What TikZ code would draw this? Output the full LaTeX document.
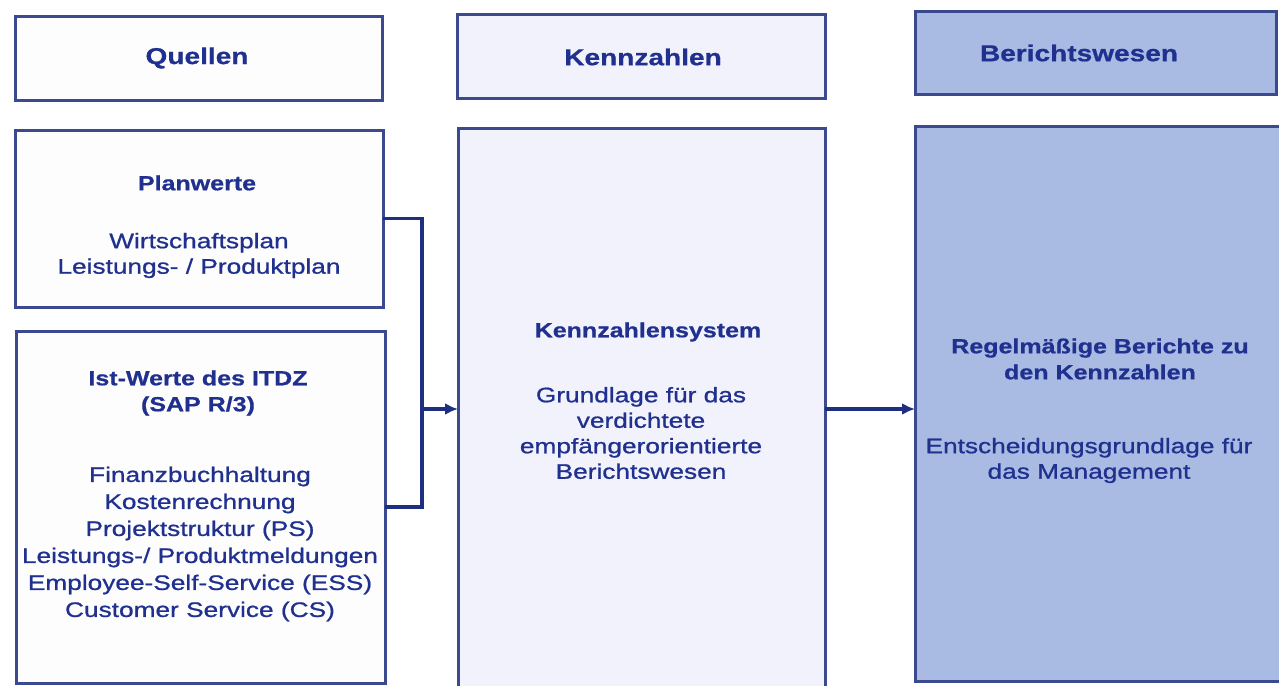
\documentclass[tikz,border=0pt]{standalone}
\usepackage{fontspec}
\setmainfont{Liberation Sans}[FakeStretch=1.25]
\newfontfamily\heavyfont{Liberation Sans}[FakeStretch=1.22,FakeBold=0.7]
\newfontfamily\plainfont{Liberation Sans}[FakeStretch=1.25,FakeBold=0.9]
\usetikzlibrary{arrows.meta}
\definecolor{edge}{HTML}{3B4A8E}
\definecolor{wire}{HTML}{1E2F82}
\definecolor{ink}{HTML}{20308F}
\definecolor{pale}{HTML}{F1F2FB}
\definecolor{paper}{HTML}{FDFDFE}
\definecolor{steel}{HTML}{A9BBE3}
\begin{document}
\begin{tikzpicture}[x=1pt,y=-1pt,
  panel/.style={draw=edge,line width=3pt,inner sep=0pt,outer sep=0pt},
  headtxt/.style={text=ink,inner sep=0pt,font=\heavyfont\bfseries\fontsize{23}{26}\selectfont},
  titletxt/.style={text=ink,inner sep=0pt,align=center,font=\heavyfont\bfseries\fontsize{20.5}{26}\selectfont},
  bodytxt/.style={text=ink,inner sep=0pt,align=center,font=\plainfont\fontsize{21}{25.5}\selectfont},
  listtxt/.style={text=ink,inner sep=0pt,align=center,font=\plainfont\fontsize{21}{27}\selectfont},
  conn/.style={draw=wire,line width=3.6pt},
  arr/.style={conn,-{Latex[length=13pt,width=12pt]}}]
\useasboundingbox (0,0) rectangle (1279,685);
\fill[white] (0,0) rectangle (1279,685);

% column headers
\node[panel,fill=paper,minimum width=367pt,minimum height=83pt] (qh) at (198.5,58.5) {};
\node[panel,fill=pale,minimum width=368pt,minimum height=83pt] (kh) at (641,56.5) {};
\node[panel,fill=steel,minimum width=361pt,minimum height=82pt] (bh) at (1095.5,53) {};
\node[headtxt] (qht) at (197,58) {Quellen};
\node[headtxt] (kht) at (643,57) {Kennzahlen};
\node[headtxt] (bht) at (1079,53) {Berichtswesen};

% source boxes
\node[panel,fill=paper,minimum width=368pt,minimum height=177pt] (plan) at (199,218.5) {};
\node[panel,fill=paper,minimum width=369pt,minimum height=352pt] (ist) at (200.5,507) {};
\node[titletxt] (plant) at (197,183) {Planwerte};
\node[bodytxt] (planb) at (199,255.5) {Wirtschaftsplan\\Leistungs- / Produktplan};
\node[titletxt] (istt) at (198,393) {Ist-Werte des ITDZ\\(SAP R/3)};
\node[listtxt] (istb) at (200,544) {Finanzbuchhaltung\\Kostenrechnung\\Projektstruktur (PS)\\Leistungs-/ Produktmeldungen\\Employee-Self-Service (ESS)\\Customer Service (CS)};

% key figure system
\node[panel,fill=pale,minimum width=367pt,minimum height=562pt] (ks) at (641.5,409) {};
\node[titletxt] (kst) at (648,332) {Kennzahlensystem};
\node[bodytxt] (ksb) at (641,433) {Grundlage für das\\verdichtete\\empfängerorientierte\\Berichtswesen};

% reporting
\node[panel,fill=steel,minimum width=370pt,minimum height=555pt] (rb) at (1100,403.5) {};
\node[titletxt] (rbt) at (1100,359) {Regelmäßige Berichte zu\\den Kennzahlen};
\node[bodytxt] (rbb) at (1089,460.5) {Entscheidungsgrundlage für\\das Management};

% connectors
\coordinate (jn) at (422,409);
\draw[conn] (plan.east) -| (jn) |- (ist.east);
\draw[arr] (jn) -- (jn -| ks.west);
\draw[arr] (ks.east) -- (ks.east -| rb.west);
\end{tikzpicture}
\end{document}
